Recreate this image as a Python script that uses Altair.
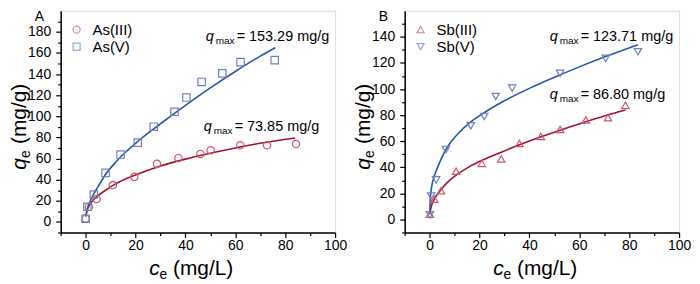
import altair as alt
import pandas as pd

FONT = "Liberation Sans"
RED_LINE = "#a5112c"
BLUE_LINE = "#2458a8"
RED_PT = "#c65a70"
BLUE_PT = "#6f82b8"

# ---------------- Panel A data ----------------
as3_c = [0.0, 1.3, 4.4, 10.9, 19.5, 28.6, 37.2, 46.0, 50.1, 62.0, 72.7, 84.3]
as3_q = [3.1, 14.1, 21.7, 34.9, 42.7, 55.0, 60.6, 64.4, 67.9, 72.6, 72.6, 73.8]
as5_c = [0.0, 0.7, 3.3, 8.0, 14.0, 20.9, 27.3, 35.6, 40.4, 46.5, 54.8, 62.1, 75.8]
as5_q = [3.1, 14.4, 26.0, 46.5, 63.8, 75.1, 90.2, 104.3, 117.8, 132.6, 140.7, 151.4, 153.3]
as3_fit_c = [0.0, 0.5, 1, 2, 3, 5, 8, 12, 20, 30, 40, 50, 60, 70, 84]
as3_fit_q = [5, 10, 13.5, 17.5, 20.5, 25, 30, 36, 44.5, 53, 59.5, 65, 70, 74.5, 79.5]
as5_fit_c = [0.2, 0.5, 1, 2, 3, 5, 8, 12, 16, 20, 30, 40, 50, 60, 70, 76]
as5_fit_q = [7, 11, 15, 20.5, 25.5, 33.5, 45, 56.5, 66, 74.5, 93, 110.5, 127, 142.5, 157, 165]

# ---------------- Panel B data ----------------
sb3_c = [0.1, 1.9, 4.6, 10.6, 20.9, 28.7, 36.0, 44.6, 52.3, 62.6, 71.5, 78.5]
sb3_q = [4.0, 15.5, 22.0, 37.0, 43.0, 46.4, 58.3, 63.6, 69.0, 76.3, 78.0, 87.5]
sb5_c = [0.1, 0.6, 2.6, 6.6, 16.5, 21.9, 26.5, 33.1, 52.3, 70.6, 83.5]
sb5_q = [3.5, 18.0, 30.4, 53.7, 71.8, 79.0, 94.3, 100.7, 112.0, 123.5, 128.6]
sb3_fit_c = [0.05, 0.5, 1, 2, 3, 5, 8, 11, 16, 21, 29, 36, 45, 52, 62.6, 70, 78.5]
sb3_fit_q = [4, 8.5, 12, 16, 19, 24, 30, 34.5, 40.5, 45.3, 51.8, 57.2, 63.6, 68.3, 75, 79.4, 84]
sb5_fit_c = [0.05, 0.2, 0.5, 1, 2, 3, 5, 8, 12, 16, 22, 30, 40, 50, 60, 70, 83.5]
sb5_fit_q = [4, 13, 21, 27, 34, 39, 48, 58, 67, 74, 82, 91, 100.5, 109, 117, 124.5, 134]

x_ticks = list(range(-10, 101, 10))

W, H = 276, 223


def axis_x():
    return alt.Axis(
        values=x_ticks,
        labelExpr="datum.value >= 0 && datum.value % 20 === 0 ? datum.label : ''",
        tickSize={"condition": {"test": "datum.value % 20 === 0", "value": 5}, "value": 3},
        title=None, grid=False, domainColor="black", domainWidth=1.5,
        tickColor="black", tickWidth=1.2, labelFontSize=14, labelFont=FONT,
        labelColor="black", labelPadding=1, labelFlush=False, labelOverlap=False,
    )


def axis_y(ymax_label, ymax):
    return alt.Axis(
        values=list(range(-10, ymax, 10)),
        labelExpr=f"datum.value >= 0 && datum.value <= {ymax_label} && datum.value % 20 === 0 ? datum.label : ''",
        tickSize={"condition": {"test": "datum.value % 20 === 0", "value": 5}, "value": 3},
        title=None, grid=False, domainColor="black", domainWidth=1.5,
        tickColor="black", tickWidth=1.2, labelFontSize=14, labelFont=FONT,
        labelColor="black", labelPadding=5, labelFlush=False, labelOverlap=False,
    )


def txt(s, x, y, size=14.5, style="normal", angle=0, align="left"):
    return alt.Chart(pd.DataFrame({"t": [s]})).mark_text(
        x=x, y=y, fontSize=size, fontStyle=style, font=FONT, angle=angle,
        align=align, baseline="alphabetic", color="black",
    ).encode(text="t:N")


def legend_item(shape, color, label, y):
    sym = alt.Chart(pd.DataFrame({"t": [label]})).mark_point(
        shape=shape, filled=False, color=color, size=50, strokeWidth=1.2,
    ).encode(x=alt.value(16), y=alt.value(y))
    lab = alt.Chart(pd.DataFrame({"t": [label]})).mark_text(
        x=32, y=y, fontSize=15, font=FONT, align="left", baseline="middle", color="black",
    ).encode(text="t:N")
    return [sym, lab]


def qmax(value, x, y):
    return [
        txt("q", x, y, size=14.5, style="italic"),
        txt("max", x + 10, y + 3, size=10),
        txt("= " + value + " mg/g", x + 31, y, size=14.5),
    ]


def titles(letter):
    return [
        txt(letter, -26, 10, size=14),
        # x title
        txt("c", 89, 266, size=21, style="italic"),
        txt("e", 99.5, 270, size=14),
        txt("(mg/L)", 113, 266, size=21),
        # y title (rotated)
        txt("q", -35, 160, size=21, style="italic", angle=270),
        txt("e", -31, 148, size=14, angle=270),
        txt("(mg/g)", -35, 134, size=21, angle=270),
    ]


def panel(ymax, ymax_label, series, legend, ann, letter):
    xs = alt.Scale(domain=[-10, 100], nice=False, zero=False)
    ys = alt.Scale(domain=[-10, ymax], nice=False, zero=False)
    layers = []
    for (fc, fq, color) in series["fits"]:
        df = pd.DataFrame({"c": fc, "q": fq})
        layers.append(alt.Chart(df).mark_line(color=color, strokeWidth=1.6, interpolate="monotone").encode(
            x=alt.X("c:Q", scale=xs, axis=axis_x()),
            y=alt.Y("q:Q", scale=ys, axis=axis_y(ymax_label, ymax)),
        ))
    for (pc, pq, shape, color, size) in series["points"]:
        df = pd.DataFrame({"c": pc, "q": pq})
        layers.append(alt.Chart(df).mark_point(shape=shape, filled=False, color=color, size=size, strokeWidth=1.2, opacity=1).encode(
            x=alt.X("c:Q", scale=xs, axis=axis_x()),
            y=alt.Y("q:Q", scale=ys, axis=axis_y(ymax_label, ymax)),
        ))
    for item in legend:
        layers += legend_item(*item)
    for a in ann:
        layers += qmax(*a)
    layers += titles(letter)
    return alt.layer(*layers).properties(width=W, height=H)


panel_a = panel(
    200, 180,
    {
        "fits": [(as3_fit_c, as3_fit_q, RED_LINE), (as5_fit_c, as5_fit_q, BLUE_LINE)],
        "points": [(as3_c, as3_q, "circle", RED_PT, 55), (as5_c, as5_q, "square", BLUE_PT, 55)],
    },
    [("circle", RED_PT, "As(III)", 19), ("square", BLUE_PT, "As(V)", 36)],
    [("153.29", 146, 30), ("73.85", 144, 121)],
    "A",
)

panel_b = panel(
    160, 140,
    {
        "fits": [(sb3_fit_c, sb3_fit_q, RED_LINE), (sb5_fit_c, sb5_fit_q, BLUE_LINE)],
        "points": [(sb3_c, sb3_q, "triangle-up", RED_PT, 55), (sb5_c, sb5_q, "triangle-down", BLUE_PT, 55)],
    },
    [("triangle-up", RED_PT, "Sb(III)", 19), ("triangle-down", BLUE_PT, "Sb(V)", 36)],
    [("123.71", 146, 30), ("86.80", 146, 89)],
    "B",
)

chart = alt.hconcat(panel_a, panel_b, spacing=70, bounds="flush").properties(
    padding={"left": 0, "top": 0, "right": 0, "bottom": 0}
).configure_view(stroke="black", strokeWidth=1.5).configure(background="white")

chart.save("out.html", embed_options={"renderer": "svg", "actions": False})
